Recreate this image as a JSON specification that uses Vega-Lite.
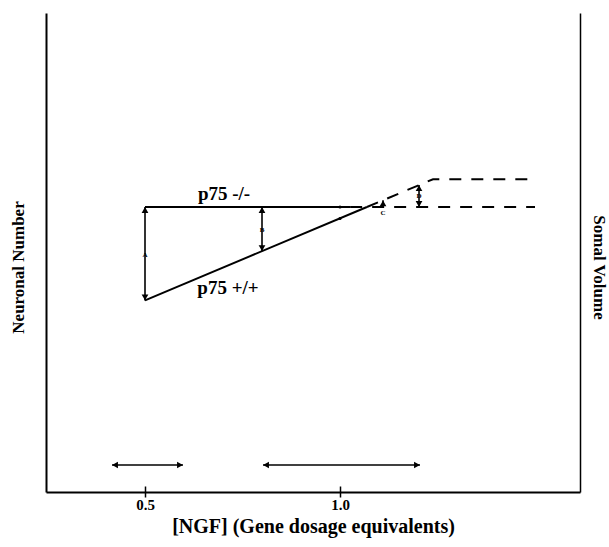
{
  "$schema": "https://vega.github.io/schema/vega-lite/v6.json",
  "width": 534,
  "height": 479,
  "autosize": {"type": "none"},
  "padding": {"left": 46, "top": 13, "right": 29, "bottom": 55},
  "background": "white",
  "config": {
    "view": {"stroke": null},
    "font": "Liberation Serif",
    "axis": {
      "grid": false,
      "labelFont": "Liberation Serif",
      "titleFont": "Liberation Serif",
      "domainColor": "black",
      "tickColor": "black",
      "labelColor": "black",
      "titleColor": "black",
      "labelFontWeight": "bold",
      "titleFontWeight": "bold"
    }
  },
  "datasets": {
    "curves": [
      {"series": "p75 -/-", "part": "solid", "x": 0.5, "y": 59.5},
      {"series": "p75 -/-", "part": "solid", "x": 1.026, "y": 59.5},
      {"series": "p75 +/+", "part": "solid", "x": 0.5, "y": 40},
      {"series": "p75 +/+", "part": "solid", "x": 1.069, "y": 59.5},
      {"series": "p75 -/-", "part": "dashed", "x": 1.026, "y": 59.5},
      {"series": "p75 -/-", "part": "dashed", "x": 1.5, "y": 59.5},
      {"series": "p75 +/+", "part": "dashed", "x": 1.069, "y": 59.5},
      {"series": "p75 +/+", "part": "dashed", "x": 1.2385, "y": 65.3},
      {"series": "p75 +/+", "part": "dashed", "x": 1.5, "y": 65.3}
    ],
    "dots": [
      {"series": "p75 -/-", "x": 1.0, "y": 59.5},
      {"series": "p75 +/+", "x": 1.0, "y": 57.1}
    ],
    "arrows": [
      {"name": "A", "x": 0.5, "x2": 0.5, "y": 59.5, "y2": 40},
      {"name": "B", "x": 0.8, "x2": 0.8, "y": 59.5, "y2": 50.3},
      {"name": "C", "x": 1.1103, "x2": 1.1103, "y": 59.5, "y2": 60.9},
      {"name": "D", "x": 1.2026, "x2": 1.2026, "y": 59.5, "y2": 64.07},
      {"name": "low range", "x": 0.4154, "x2": 0.5974, "y": 5.64, "y2": 5.64},
      {"name": "high range", "x": 0.8026, "x2": 1.2051, "y": 5.64, "y2": 5.64}
    ],
    "heads": [
      {"x": 0.5, "y": 59.5, "dir": "up"},
      {"x": 0.5, "y": 40, "dir": "down"},
      {"x": 0.8, "y": 59.5, "dir": "up"},
      {"x": 0.8, "y": 50.3, "dir": "down"},
      {"x": 1.1103, "y": 60.9, "dir": "up"},
      {"x": 1.2026, "y": 64.07, "dir": "up"},
      {"x": 1.2026, "y": 59.5, "dir": "down"},
      {"x": 0.4154, "y": 5.64, "dir": "left"},
      {"x": 0.5974, "y": 5.64, "dir": "right"},
      {"x": 0.8026, "y": 5.64, "dir": "left"},
      {"x": 1.2051, "y": 5.64, "dir": "right"}
    ],
    "labels": [
      {"text": "p75 -/-", "x": 0.7026, "y": 60.9},
      {"text": "p75 +/+", "x": 0.7128, "y": 41.3}
    ],
    "letters": [
      {"text": "A", "x": 0.5, "y": 49.5},
      {"text": "B", "x": 0.8, "y": 54.7},
      {"text": "C", "x": 1.1103, "y": 58.2},
      {"text": "D", "x": 1.2026, "y": 61.8}
    ]
  },
  "resolve": {"axis": {"y": "independent", "x": "independent"}},
  "layer": [
    {
      "data": {"name": "curves"},
      "transform": [{"filter": "datum.part === 'solid'"}],
      "mark": {"type": "line", "strokeWidth": 2, "color": "black"},
      "encoding": {
        "x": {
          "field": "x", "type": "quantitative",
          "scale": {"domain": [0.24615, 1.61538], "nice": false, "zero": false},
          "axis": {
            "orient": "bottom",
            "values": [0.5, 1.0], "format": ".1f", "domain": true, "domainWidth": 2,
            "tickSize": 5, "tickWidth": 1.5,
            "labelFontSize": 15, "labelPadding": 0,
            "title": "[NGF] (Gene dosage equivalents)", "titleFontSize": 20, "titlePadding": 4
          }
        },
        "y": {
          "field": "y", "type": "quantitative",
          "scale": {"domain": [0, 100], "nice": false, "zero": false},
          "axis": {
            "orient": "left", "title": "Neuronal Number", "ticks": false, "labels": false,
            "domainWidth": 2, "titleFontSize": 17, "titlePadding": 19, "titleY": 254
          }
        },
        "detail": {"field": "series"}
      }
    },
    {
      "data": {"name": "curves"},
      "transform": [{"filter": "datum.part === 'dashed'"}],
      "mark": {"type": "line", "strokeWidth": 2, "color": "black", "strokeDash": [12, 10]},
      "encoding": {
        "x": {
          "field": "x", "type": "quantitative",
          "axis": {
            "orient": "bottom",
            "values": [0.5, 1.0], "domain": false, "labels": false, "title": null,
            "offset": -6, "tickSize": 6, "tickWidth": 1.5
          }
        },
        "y": {
          "field": "y", "type": "quantitative",
          "axis": {
            "orient": "right", "title": "Somal Volume", "ticks": false, "labels": false,
            "domainWidth": 1.5, "titleFontSize": 17, "titlePadding": 9, "titleY": 254
          }
        },
        "detail": {"field": "series"}
      }
    },
    {
      "data": {"name": "dots"},
      "mark": {"type": "point", "filled": true, "size": 10, "color": "black", "opacity": 1},
      "encoding": {
        "x": {"field": "x", "type": "quantitative", "axis": null},
        "y": {"field": "y", "type": "quantitative", "axis": null}
      }
    },
    {
      "data": {"name": "arrows"},
      "mark": {"type": "rule", "strokeWidth": 1.6, "color": "black"},
      "encoding": {
        "x": {"field": "x", "type": "quantitative", "axis": null},
        "x2": {"field": "x2"},
        "y": {"field": "y", "type": "quantitative", "axis": null},
        "y2": {"field": "y2"}
      }
    },
    {
      "data": {"name": "heads"},
      "transform": [{"filter": "datum.dir === 'up'"}],
      "mark": {"type": "point", "shape": "triangle-up", "filled": true, "size": 45, "color": "black", "opacity": 1, "yOffset": 3},
      "encoding": {
        "x": {"field": "x", "type": "quantitative", "axis": null},
        "y": {"field": "y", "type": "quantitative", "axis": null}
      }
    },
    {
      "data": {"name": "heads"},
      "transform": [{"filter": "datum.dir === 'down'"}],
      "mark": {"type": "point", "shape": "triangle-down", "filled": true, "size": 45, "color": "black", "opacity": 1, "yOffset": -3},
      "encoding": {
        "x": {"field": "x", "type": "quantitative", "axis": null},
        "y": {"field": "y", "type": "quantitative", "axis": null}
      }
    },
    {
      "data": {"name": "heads"},
      "transform": [{"filter": "datum.dir === 'left'"}],
      "mark": {"type": "point", "shape": "triangle-left", "filled": true, "size": 45, "color": "black", "opacity": 1, "xOffset": 3},
      "encoding": {
        "x": {"field": "x", "type": "quantitative", "axis": null},
        "y": {"field": "y", "type": "quantitative", "axis": null}
      }
    },
    {
      "data": {"name": "heads"},
      "transform": [{"filter": "datum.dir === 'right'"}],
      "mark": {"type": "point", "shape": "triangle-right", "filled": true, "size": 45, "color": "black", "opacity": 1, "xOffset": -3},
      "encoding": {
        "x": {"field": "x", "type": "quantitative", "axis": null},
        "y": {"field": "y", "type": "quantitative", "axis": null}
      }
    },
    {
      "data": {"name": "labels"},
      "mark": {"type": "text", "font": "Liberation Serif", "fontWeight": "bold", "fontSize": 19, "align": "center", "baseline": "alphabetic", "color": "black"},
      "encoding": {
        "x": {"field": "x", "type": "quantitative", "axis": null},
        "y": {"field": "y", "type": "quantitative", "axis": null},
        "text": {"field": "text"}
      }
    },
    {
      "data": {"name": "letters"},
      "mark": {"type": "text", "font": "Liberation Serif", "fontWeight": "bold", "fontSize": 7, "align": "center", "baseline": "middle", "color": "black"},
      "encoding": {
        "x": {"field": "x", "type": "quantitative", "axis": null},
        "y": {"field": "y", "type": "quantitative", "axis": null},
        "text": {"field": "text"}
      }
    }
  ]
}
